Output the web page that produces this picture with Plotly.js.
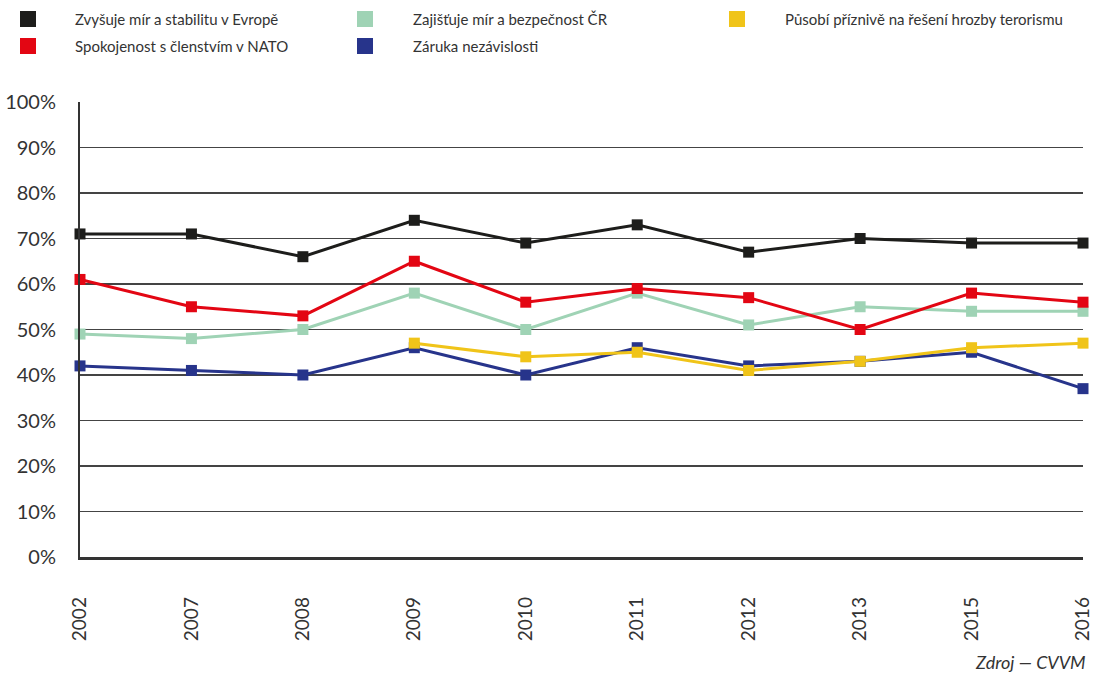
<!DOCTYPE html>
<html>
<head>
<meta charset="utf-8">
<script src="https://cdn.plot.ly/plotly-3.0.1.min.js"></script>
<style>html,body{margin:0;padding:0;background:#fff;}#chart{width:1093px;height:673px;}</style>
</head>
<body>
<div id="chart"></div>
<script>
const years = ['2002','2007','2008','2009','2010','2011','2012','2013','2015','2016'];
const namesList = ['Zvyšuje mír a stabilitu v Evropě','Spokojenost s členstvím v NATO','Zajišťuje mír a bezpečnost ČR','Záruka nezávislosti','Působí příznivě na řešení hrozby terorismu'];
const stabilita = [71,71,66,74,69,73,67,70,69,69];
const spokojenost = [61,55,53,65,56,59,57,50,58,56];
const bezpecnost = [49,48,50,58,50,58,51,55,54,54];
const nezavislost = [42,41,40,46,40,46,42,43,45,37];
const terorismus = [null,null,null,47,44,45,41,43,46,47];
const colors = ['#1d1d1b','#e30613','#9fd3b5','#27348b','#f0c419'];
const yTicks = [0,10,20,30,40,50,60,70,80,90,100];
const yTickText = yTicks.map(v => v + '%');
const source = 'Zdroj — CVVM';

function tr(y, i) {
  return {x: years, y: y, type:'scatter', mode:'lines+markers', name: namesList[i],
    line:{color:colors[i], width:3}, marker:{symbol:'square', size:11, color:colors[i]},
    cliponaxis:false, showlegend:false, connectgaps:false};
}
const data = [tr(stabilita,0), tr(bezpecnost,2), tr(nezavislost,3), tr(spokojenost,1), tr(terorismus,4)];

const L = 80, R = 1083, T = 102, B = 557;
const W = R - L, H = B - T;
const legendPos = [[20,73,19],[20,73,46],[357,411,19],[357,411,46],[729,783,19]];
const shapes = [];
const annotations = [];
namesList.forEach((n,i) => {
  const p = legendPos[i];
  shapes.push({type:'rect', xref:'paper', yref:'paper',
    x0:(p[0]-L)/W, x1:(p[0]+16-L)/W,
    y0:(B-(p[2]+8))/H, y1:(B-(p[2]-8))/H,
    fillcolor:colors[i], line:{width:0}});
  annotations.push({xref:'paper', yref:'paper', x:(p[1]-L)/W, y:(B-p[2])/H,
    xanchor:'left', yanchor:'middle', text:n, showarrow:false,
    font:{family:'Lato, sans-serif', size:15, color:'#333'}});
});
annotations.push({xref:'paper', yref:'paper', x:(1088-L)/W, y:(B-662)/H, xanchor:'right', yanchor:'middle',
  text:'<i>'+source+'</i>', showarrow:false, font:{family:'Lato, sans-serif', size:18, color:'#333'}});

const layout = {
  width:1093, height:673,
  margin:{l:L, r:1093-R, t:T, b:673-B},
  paper_bgcolor:'#fff', plot_bgcolor:'#fff',
  font:{family:'Lato, sans-serif', color:'#333'},
  xaxis:{type:'category', range:[0,9], showgrid:false, zeroline:false,
    showline:true, linecolor:'#333', linewidth:2.5,
    ticks:'outside', ticklen:30, tickcolor:'rgba(0,0,0,0)', tickangle:-90,
    tickfont:{size:19, color:'#333'}},
  yaxis:{range:[0,100], tickvals:yTicks, ticktext:yTickText, showgrid:true,
    gridcolor:'#444', gridwidth:1.2, zeroline:false, showline:true, linecolor:'#333', linewidth:2,
    ticks:'outside', ticklen:18, tickcolor:'rgba(0,0,0,0)',
    tickfont:{size:20, color:'#333'}},
  shapes: shapes,
  annotations: annotations,
  showlegend:false
};
Plotly.newPlot('chart', data, layout, {displayModeBar:false, staticPlot:true});
</script>
</body>
</html>
